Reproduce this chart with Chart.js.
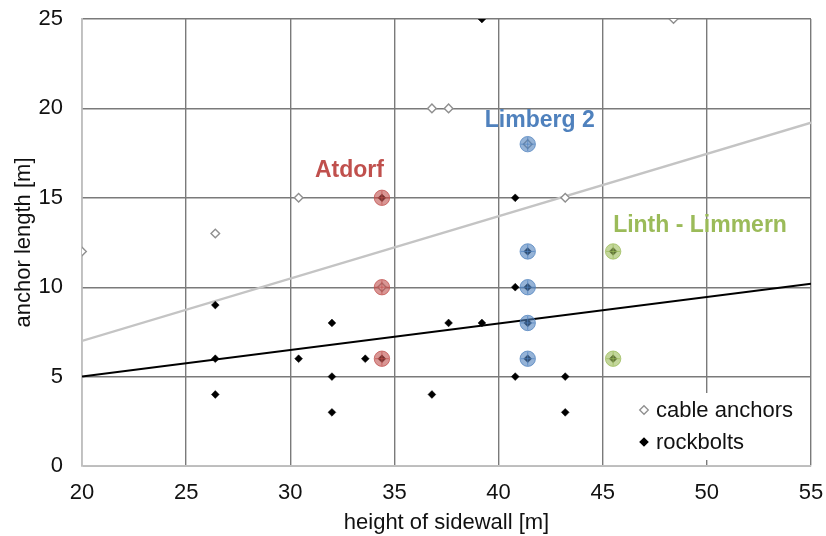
<!DOCTYPE html>
<html lang="en">
<head>
	<meta charset="UTF-8">
	<title>anchor length vs height of sidewall</title>
	<script src="https://cdn.jsdelivr.net/npm/chart.js"></script>
	<style>
		html, body { margin: 0; padding: 0; background: #fff; }
		#wrap { width: 826px; height: 536px; }
	</style>
</head>
<body>
	<div id="wrap">
		<canvas id="myChart" width="826" height="536"></canvas>
	</div>

	<script>
		// cable anchors (open diamonds)
		const cableX = [20, 26.4, 30.4, 34.4, 36.8, 37.6, 41.4, 43.2, 48.4];
		const cableY = [12, 13, 15, 10, 20, 20, 18, 15, 25];

		// rockbolts (filled diamonds)
		const boltX = [39.2, 34.4, 40.8, 41.4, 45.5, 40.8, 41.4, 26.4, 32, 37.6, 39.2, 41.4, 26.4, 30.4, 33.6, 34.4, 41.4, 45.5, 32, 40.8, 43.2, 26.4, 36.8, 32, 43.2];
		const boltY = [25, 15, 15, 12, 12, 10, 10, 9, 8, 8, 8, 8, 6, 6, 6, 6, 6, 6, 5, 5, 5, 4, 4, 3, 3];

		// trend lines, value at each end of the x range
		const trendX = [20, 55];
		const cableTrend = [7, 19.2];
		const boltTrend = [5, 10.2];

		// highlighted sites
		const sites = ["Atdorf", "Limberg 2", "Linth - Limmern"];
		const siteX = [34.4, 41.4, 45.5];
		const siteY = [[15, 10, 6], [18, 12, 10, 8, 6], [12, 6]];
		const siteColors = ["192, 80, 77", "79, 129, 189", "155, 187, 89"];

		const xTicks = [20, 25, 30, 35, 40, 45, 50, 55];
		const yTicks = [0, 5, 10, 15, 20, 25];

		const fontFamily = "'Liberation Sans', Arial, sans-serif";

		const pts = (xs, ys) => xs.map((x, i) => ({ x: x, y: ys[i] }));

		const datasets = [];

		sites.forEach((name, i) => {
			const data = siteY[i].map(y => ({ x: siteX[i], y: y }));
			datasets.push({
				label: name,
				type: "scatter",
				data: data,
				pointStyle: "circle",
				pointRadius: 7.7,
				backgroundColor: "rgba(" + siteColors[i] + ", 0.6)",
				borderColor: "rgba(" + siteColors[i] + ", 0.75)",
				borderWidth: 1,
				order: 1
			});
			datasets.push({
				label: name + " cross",
				type: "scatter",
				data: data,
				pointStyle: "cross",
				pointRadius: 7,
				borderColor: "rgba(" + siteColors[i] + ", 0.9)",
				borderWidth: 0.8,
				order: 0
			});
		});

		datasets.push({
			label: "cable anchors",
			type: "scatter",
			data: pts(cableX, cableY),
			pointStyle: "rectRot",
			pointRadius: 4.3,
			backgroundColor: "#ffffff",
			borderColor: "#8f8f8f",
			borderWidth: 1.4,
			order: 2
		});
		datasets.push({
			label: "rockbolts",
			type: "scatter",
			data: pts(boltX, boltY),
			pointStyle: "rectRot",
			pointRadius: 3.9,
			backgroundColor: "#000000",
			borderColor: "#000000",
			borderWidth: 0.5,
			order: 2
		});
		datasets.push({
			label: "cable trend",
			type: "line",
			data: pts(trendX, cableTrend),
			borderColor: "#c4c4c4",
			borderWidth: 2.3,
			pointRadius: 0,
			order: 3
		});
		datasets.push({
			label: "rockbolt trend",
			type: "line",
			data: pts(trendX, boltTrend),
			borderColor: "#000000",
			borderWidth: 2,
			pointRadius: 0,
			order: 3
		});

		// site names and the small legend box
		const annotate = {
			id: "annotate",
			afterDraw(chart) {
				const ctx = chart.ctx;
				const xs = chart.scales.x, ys = chart.scales.y;
				const area = chart.chartArea;
				ctx.save();
				ctx.font = "bold 23px " + fontFamily;
				ctx.textBaseline = "alphabetic";
				const place = [
					{ align: "right", dx: 2, dy: -21 },
					{ align: "center", dx: 12, dy: -17 },
					{ align: "left", dx: 0, dy: -19 }
				];
				sites.forEach((name, i) => {
					const px = xs.getPixelForValue(siteX[i]);
					const py = ys.getPixelForValue(Math.max(...siteY[i]));
					ctx.fillStyle = "rgb(" + siteColors[i] + ")";
					ctx.textAlign = place[i].align;
					ctx.fillText(name, px + place[i].dx, py + place[i].dy);
				});

				// legend
				const bx = area.right - 186, by = area.bottom - 73;
				ctx.fillStyle = "#ffffff";
				ctx.fillRect(bx, by, 183, 67);
				ctx.font = "22px " + fontFamily;
				ctx.textAlign = "left";
				ctx.textBaseline = "middle";
				const rows = [
					{ text: "cable anchors", fill: "#ffffff", stroke: "#8f8f8f", r: 4.3 },
					{ text: "rockbolts", fill: "#000000", stroke: "#000000", r: 3.9 }
				];
				rows.forEach((row, k) => {
					const cy = by + 17 + k * 32;
					const mx = bx + 19;
					ctx.beginPath();
					ctx.moveTo(mx - row.r, cy);
					ctx.lineTo(mx, cy - row.r);
					ctx.lineTo(mx + row.r, cy);
					ctx.lineTo(mx, cy + row.r);
					ctx.closePath();
					ctx.fillStyle = row.fill;
					ctx.fill();
					ctx.lineWidth = 1.3;
					ctx.strokeStyle = row.stroke;
					ctx.stroke();
					ctx.fillStyle = "#111111";
					ctx.fillText(row.text, bx + 31, cy + 1);
				});
				ctx.restore();
			}
		};

		const config = {
			type: "scatter",
			data: { datasets: datasets },
			options: {
				responsive: false,
				animation: false,
				layout: { padding: { top: 19, right: 15, left: 0, bottom: 0 } },
				plugins: {
					legend: { display: false },
					tooltip: { enabled: false }
				},
				scales: {
					x: {
						type: "linear",
						min: 20,
						max: 55,
						afterBuildTicks: (scale) => { scale.ticks = xTicks.map(v => ({ value: v })); },
						afterFit: (scale) => {
							scale.height = 70;
							scale.paddingLeft = 0;
							scale.paddingRight = 0;
						},
						grid: { color: "#7a7a7a", lineWidth: 1.4, drawTicks: false },
						border: { color: "#c0c0c0", width: 1.5 },
						ticks: { padding: 14, color: "#111111", font: { family: fontFamily, size: 22 } },
						title: {
							display: true,
							text: "height of sidewall [m]",
							color: "#111111",
							font: { family: fontFamily, size: 22 },
							padding: { top: 0, bottom: 0 }
						}
					},
					y: {
						type: "linear",
						min: 0,
						max: 25,
						afterBuildTicks: (scale) => { scale.ticks = yTicks.map(v => ({ value: v })); },
						afterFit: (scale) => {
							scale.width = 82;
							scale.paddingTop = 0;
							scale.paddingBottom = 0;
						},
						grid: { color: "#7a7a7a", lineWidth: 1.4, drawTicks: false },
						border: { color: "#c0c0c0", width: 1.5 },
						ticks: { padding: 19, color: "#111111", font: { family: fontFamily, size: 22 } },
						title: {
							display: true,
							text: "anchor length [m]",
							color: "#111111",
							font: { family: fontFamily, size: 22 },
							padding: { top: 11, bottom: 0 }
						}
					}
				}
			},
			plugins: [annotate]
		};

		const myChart = new Chart(document.getElementById("myChart"), config);
	</script>
</body>
</html>
